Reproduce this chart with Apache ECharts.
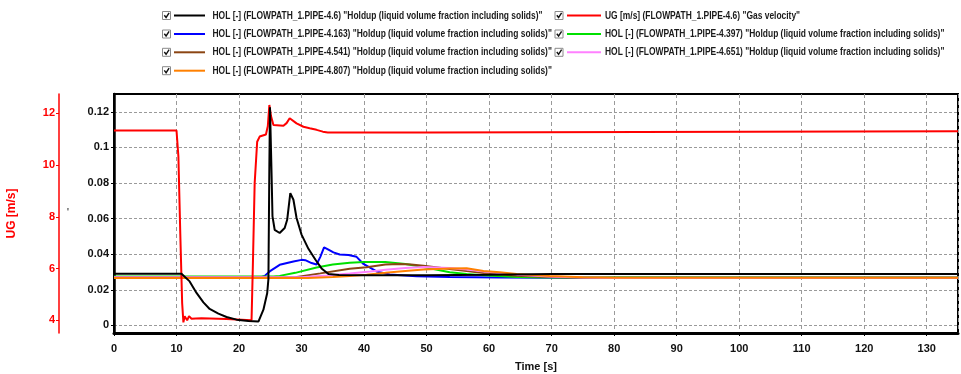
<!DOCTYPE html>
<html>
<head>
<meta charset="utf-8">
<script src="https://cdn.jsdelivr.net/npm/echarts@6/dist/echarts.min.js"></script>
<style>
  html, body { margin: 0; padding: 0; background: #fff; }
  #chart { width: 961px; height: 374px; }
</style>
</head>
<body>
<div id="chart"></div>
<script>
// Series names (legend text)
const nameHol46  = 'HOL [-] (FLOWPATH_1.PIPE-4.6) "Holdup (liquid volume fraction including solids)"';
const nameUg46   = 'UG [m/s] (FLOWPATH_1.PIPE-4.6) "Gas velocity"';
const nameHol163 = 'HOL [-] (FLOWPATH_1.PIPE-4.163) "Holdup (liquid volume fraction including solids)"';
const nameHol397 = 'HOL [-] (FLOWPATH_1.PIPE-4.397) "Holdup (liquid volume fraction including solids)"';
const nameHol541 = 'HOL [-] (FLOWPATH_1.PIPE-4.541) "Holdup (liquid volume fraction including solids)"';
const nameHol651 = 'HOL [-] (FLOWPATH_1.PIPE-4.651) "Holdup (liquid volume fraction including solids)"';
const nameHol807 = 'HOL [-] (FLOWPATH_1.PIPE-4.807) "Holdup (liquid volume fraction including solids)"';

// Holdup at PIPE-4.6 [time s, holdup -]
const hol46 = [
  [0, 0.029], [10.8, 0.029], [12.1, 0.0247], [13.2, 0.0182], [14.3, 0.0129], [15.3, 0.0092],
  [16.7, 0.0066], [18.0, 0.0047], [19.6, 0.0032], [21.5, 0.0025], [23.1, 0.0021],
  [23.9, 0.0088], [24.5, 0.018], [24.7, 0.026], [24.85, 0.09], [24.95, 0.1225],
  [25.2, 0.0856], [25.35, 0.0612], [25.7, 0.0537], [26.5, 0.0519], [27.3, 0.0547],
  [27.7, 0.0593], [28.2, 0.0743], [28.7, 0.0706], [29.2, 0.0603], [30.0, 0.051],
  [31.1, 0.043], [32.2, 0.037], [33.2, 0.032], [34.3, 0.0288], [36, 0.0283],
  [40, 0.0282], [50, 0.0282], [60, 0.0285], [70, 0.0289], [135, 0.0289]
];

// Gas velocity at PIPE-4.6 [time s, m/s]
const ug46 = [
  [0, 11.33], [10.0, 11.33], [10.3, 10.33], [10.6, 7.37], [10.9, 4.67], [11.1, 3.92],
  [11.3, 4.16], [11.7, 4.0], [12.0, 4.16], [12.4, 4.06], [12.7, 4.13], [13.1, 4.07],
  [14.0, 4.08], [18.0, 4.05], [22.0, 4.0], [22.2, 6.0], [22.5, 9.3], [22.9, 10.9],
  [23.3, 11.1], [24.3, 11.18], [24.6, 11.5], [24.85, 12.32], [25.1, 11.9], [25.5, 11.55],
  [27.1, 11.52], [27.6, 11.62], [28.1, 11.81], [29.2, 11.61], [30.3, 11.48], [31.3, 11.42],
  [32.4, 11.36], [33.4, 11.29], [34.2, 11.26], [50.3, 11.26], [50.4, 11.31], [135, 11.31]
];

// Holdup at PIPE-4.163
const hol163 = [
  [0, 0.027], [23.5, 0.027], [24.1, 0.0278], [24.9, 0.0303], [26.5, 0.034], [28.7, 0.0359],
  [30.0, 0.0368], [30.6, 0.0366], [31.6, 0.035], [32.4, 0.0342], [33.0, 0.0385],
  [33.6, 0.0438], [34.3, 0.0425], [35.1, 0.041], [36.1, 0.0398], [37.5, 0.0395],
  [38.8, 0.0385], [39.9, 0.0345], [42.0, 0.0303], [44.1, 0.0286], [48.4, 0.0276],
  [53.7, 0.0271], [61.7, 0.0269], [70, 0.0268], [135, 0.0268]
];

// Holdup at PIPE-4.397
const hol397 = [
  [0, 0.0274], [25.5, 0.0274], [26.5, 0.0278], [29, 0.0295], [32.4, 0.0325], [35, 0.0342],
  [37.7, 0.0352], [40, 0.0356], [43.4, 0.0356], [46.6, 0.0345], [49.5, 0.0328],
  [53.7, 0.0298], [56.4, 0.0288], [59.1, 0.0281], [64.4, 0.0272], [70, 0.0269], [135, 0.0269]
];

// Holdup at PIPE-4.541
const hol541 = [
  [0, 0.027], [29, 0.027], [33, 0.0292], [37.7, 0.0318], [40.4, 0.0327], [43.4, 0.0342],
  [45.7, 0.0345], [47.5, 0.0342], [49.5, 0.0335], [53.7, 0.0317], [56.4, 0.0305],
  [59.1, 0.0294], [64.4, 0.0279], [69.7, 0.0272], [75, 0.0268], [135, 0.0268]
];

// Holdup at PIPE-4.651
const hol651 = [
  [0, 0.027], [30, 0.027], [34, 0.028], [37.7, 0.0292], [41, 0.0303], [43.4, 0.0312],
  [46.6, 0.0322], [49.5, 0.0328], [53.7, 0.0322], [56.4, 0.0314], [59.1, 0.0303],
  [64.4, 0.0285], [69.7, 0.0274], [75, 0.0269], [80, 0.0266], [135, 0.0267]
];

// Holdup at PIPE-4.807
const hol807 = [
  [0, 0.0266], [31, 0.0266], [35, 0.0272], [37.7, 0.0277], [40.4, 0.0285], [43.4, 0.0295],
  [46.6, 0.0306], [49.5, 0.0314], [53.7, 0.032], [56.4, 0.0321], [59.1, 0.0305],
  [61.7, 0.0298], [64.4, 0.0289], [69.7, 0.0277], [75, 0.027], [80, 0.0267], [135, 0.0267]
];

// Axis tick values
const holTicks = [0, 0.02, 0.04, 0.06, 0.08, 0.1, 0.12];
const ugTicks = [4, 6, 8, 10, 12];

const COLORS = {
  hol46: '#000000', ug46: '#ff0000', hol163: '#0000ff', hol397: '#00e000',
  hol541: '#8b4513', hol651: '#ff80ff', hol807: '#ff8000'
};

const FONT = "'Liberation Sans', Arial, sans-serif";
const GRID = { left: 114, right: 3, top: 94, bottom: 41 };

const chart = echarts.init(document.getElementById('chart'), null, { renderer: 'canvas' });

// ---- legend block (checkbox, line sample, label) drawn as graphics ----
const LEGEND_FONT = 'bold 11px ' + FONT;
const legendRowY = [15.5, 34, 52.3, 70.7];
const legendCols = [
  { box: 162.5, lineFrom: 174, lineTo: 205, text: 212.5 },
  { box: 555, lineFrom: 567, lineTo: 601, text: 605 }
];
const legendEntries = [
  { name: nameHol46,  color: COLORS.hol46,  col: 0, row: 0 },
  { name: nameUg46,   color: COLORS.ug46,   col: 1, row: 0 },
  { name: nameHol163, color: COLORS.hol163, col: 0, row: 1 },
  { name: nameHol397, color: COLORS.hol397, col: 1, row: 1 },
  { name: nameHol541, color: COLORS.hol541, col: 0, row: 2 },
  { name: nameHol651, color: COLORS.hol651, col: 1, row: 2 },
  { name: nameHol807, color: COLORS.hol807, col: 0, row: 3 }
];
// labels are set in a condensed face: squeeze them horizontally
const measureCtx = document.createElement('canvas').getContext('2d');
measureCtx.font = LEGEND_FONT;
const legendSqueeze = 330 / measureCtx.measureText(nameHol46).width;

const legendGraphics = [];
legendEntries.forEach(e => {
  const c = legendCols[e.col];
  const y = legendRowY[e.row];
  legendGraphics.push({
    type: 'rect', silent: true,
    shape: { x: c.box, y: y - 4, width: 8, height: 8 },
    style: { fill: '#fff', stroke: '#8a8a8a', lineWidth: 1 }
  });
  legendGraphics.push({
    type: 'polyline', silent: true,
    shape: { points: [[c.box + 1.8, y - 0.3], [c.box + 3.6, y + 2], [c.box + 6.6, y - 2.6]] },
    style: { fill: null, stroke: '#111', lineWidth: 1.4 }
  });
  legendGraphics.push({
    type: 'line', silent: true,
    shape: { x1: c.lineFrom, y1: y, x2: c.lineTo, y2: y },
    style: { stroke: e.color, lineWidth: 2 }
  });
  legendGraphics.push({
    type: 'text', silent: true,
    x: c.text, y: y, scaleX: legendSqueeze,
    style: {
      text: e.name, fill: '#1a1a1a', font: LEGEND_FONT,
      textVerticalAlign: 'middle', verticalAlign: 'middle', align: 'left'
    }
  });
});

function lineSeries(name, data, color, yAxisIndex, z) {
  return {
    name, type: 'line', data, yAxisIndex, z,
    showSymbol: false, symbol: 'none', clip: true, animation: false,
    lineStyle: { color, width: 2 }, itemStyle: { color }
  };
}

const axisFont = { fontFamily: FONT, fontSize: 11, fontWeight: 'bold' };

const option = {
  animation: false,
  backgroundColor: '#fff',
  grid: Object.assign({
    show: true, borderColor: '#000', borderWidth: 2, backgroundColor: '#fff',
    containLabel: false, outerBoundsMode: 'none'
  }, GRID),
  graphic: legendGraphics,
  xAxis: {
    type: 'value', min: 0, max: 135, interval: 10,
    name: 'Time [s]', nameLocation: 'middle', nameGap: 28,
    nameTextStyle: Object.assign({ color: '#111' }, axisFont),
    axisLine: { onZero: false, lineStyle: { color: '#000', width: 3 } },
    axisTick: { length: 3, lineStyle: { color: '#000' } },
    axisLabel: Object.assign({ color: '#111', margin: 10, showMaxLabel: false }, axisFont),
    splitLine: { lineStyle: { color: '#9a9a9a', type: [4, 3], width: 1 } }
  },
  yAxis: [
    {
      type: 'value', position: 'left', min: -0.0043, max: 0.13,
      minInterval: 0.02, maxInterval: 0.02,
      name: "'", nameLocation: 'middle', nameGap: 45, nameRotate: 0,
      nameTextStyle: { fontFamily: FONT, fontSize: 10, color: '#000' },
      axisLine: { show: true, lineStyle: { color: '#000', width: 2.5 } },
      axisTick: { show: true, length: 3, customValues: holTicks, lineStyle: { color: '#000' } },
      axisLabel: Object.assign({ color: '#111', margin: 5, customValues: holTicks }, axisFont),
      splitLine: { lineStyle: { color: '#9a9a9a', type: [3, 2], width: 1 } }
    },
    {
      type: 'value', position: 'left', offset: 55, min: 3.51, max: 12.745,
      minInterval: 2, maxInterval: 2,
      name: 'UG [m/s]', nameLocation: 'middle', nameGap: 41,
      nameTextStyle: { fontFamily: FONT, fontSize: 12, fontWeight: 'bold', color: '#ff0000' },
      axisLine: { show: true, lineStyle: { color: '#ff0000', width: 1.5 } },
      axisTick: { show: true, length: 3, customValues: ugTicks, lineStyle: { color: '#ff0000' } },
      axisLabel: Object.assign({ color: '#ff0000', margin: 4, customValues: ugTicks }, axisFont),
      splitLine: { show: false }
    }
  ],
  series: [
    lineSeries(nameHol163, hol163, COLORS.hol163, 0, 2),
    lineSeries(nameHol397, hol397, COLORS.hol397, 0, 2),
    lineSeries(nameHol541, hol541, COLORS.hol541, 0, 2),
    lineSeries(nameHol651, hol651, COLORS.hol651, 0, 2),
    lineSeries(nameHol807, hol807, COLORS.hol807, 0, 2),
    lineSeries(nameUg46, ug46, COLORS.ug46, 1, 3),
    lineSeries(nameHol46, hol46, COLORS.hol46, 0, 4)
  ]
};

chart.setOption(option);
</script>
</body>
</html>
